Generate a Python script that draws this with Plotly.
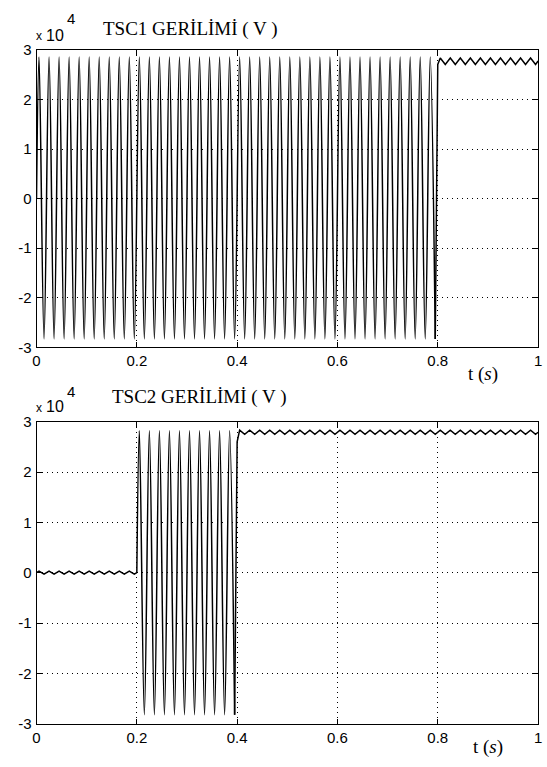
import plotly.graph_objects as go

W, H = 547, 767

# ---- TSC1 voltage (V) ----
# 50 Hz switching from 0 to 0.8 s: start point + 80 extrema
tsc1_osc_t = [
    0.000,
    0.005, 0.015, 0.025, 0.035, 0.045, 0.055, 0.065, 0.075, 0.085, 0.095,
    0.105, 0.115, 0.125, 0.135, 0.145, 0.155, 0.165, 0.175, 0.185, 0.195,
    0.205, 0.215, 0.225, 0.235, 0.245, 0.255, 0.265, 0.275, 0.285, 0.295,
    0.305, 0.315, 0.325, 0.335, 0.345, 0.355, 0.365, 0.375, 0.385, 0.395,
    0.405, 0.415, 0.425, 0.435, 0.445, 0.455, 0.465, 0.475, 0.485, 0.495,
    0.505, 0.515, 0.525, 0.535, 0.545, 0.555, 0.565, 0.575, 0.585, 0.595,
    0.605, 0.615, 0.625, 0.635, 0.645, 0.655, 0.665, 0.675, 0.685, 0.695,
    0.705, 0.715, 0.725, 0.735, 0.745, 0.755, 0.765, 0.775, 0.785, 0.795,
]
tsc1_osc_v = [
    0,
    28600, -28300, 28600, -28300, 28600, -28300, 28600, -28300, 28600, -28300,
    28600, -28300, 28600, -28300, 28600, -28300, 28600, -28300, 28600, -28300,
    28600, -28300, 28600, -28300, 28600, -28300, 28600, -28300, 28600, -28300,
    28600, -28300, 28600, -28300, 28600, -28300, 28600, -28300, 28600, -28300,
    28600, -28300, 28600, -28300, 28600, -28300, 28600, -28300, 28600, -28300,
    28600, -28300, 28600, -28300, 28600, -28300, 28600, -28300, 28600, -28300,
    28600, -28300, 28600, -28300, 28600, -28300, 28600, -28300, 28600, -28300,
    28600, -28300, 28600, -28300, 28600, -28300, 28600, -28300, 28600, -28300,
]
# charged capacitor with ripple, 0.8 - 1.0 s
tsc1_dc_t = [
    0.800,
    0.805, 0.815, 0.825, 0.835, 0.845, 0.855, 0.865, 0.875, 0.885, 0.895,
    0.905, 0.915, 0.925, 0.935, 0.945, 0.955, 0.965, 0.975, 0.985, 0.995,
    1.000,
]
tsc1_dc_v = [
    27100,
    28400, 27100, 28400, 27100, 28400, 27100, 28400, 27100, 28400, 27100,
    28400, 27100, 28400, 27100, 28400, 27100, 28400, 27100, 28400, 27100,
    27800,
]

# ---- TSC2 voltage (V) ----
# small ripple around zero, 0 - 0.2 s
tsc2_zero_t = [
    0.000,
    0.005, 0.015, 0.025, 0.035, 0.045, 0.055, 0.065, 0.075, 0.085, 0.095,
    0.105, 0.115, 0.125, 0.135, 0.145, 0.155, 0.165, 0.175, 0.185, 0.195,
    0.200,
]
tsc2_zero_v = [
    0,
    300, -300, 300, -300, 300, -300, 300, -300, 300, -300,
    300, -300, 300, -300, 300, -300, 300, -300, 300, -300,
    0,
]
# 50 Hz switching, 0.2 - 0.4 s
tsc2_osc_t = [
    0.205, 0.215, 0.225, 0.235, 0.245, 0.255, 0.265, 0.275, 0.285, 0.295,
    0.305, 0.315, 0.325, 0.335, 0.345, 0.355, 0.365, 0.375, 0.385, 0.395,
]
tsc2_osc_v = [
    28200, -28200, 28200, -28200, 28200, -28200, 28200, -28200, 28200, -28200,
    28200, -28200, 28200, -28200, 28200, -28200, 28200, -28200, 28200, -28200,
]
# charged capacitor with ripple, 0.4 - 1.0 s
tsc2_dc_t = [
    0.400,
    0.405, 0.415, 0.425, 0.435, 0.445, 0.455, 0.465, 0.475, 0.485, 0.495,
    0.505, 0.515, 0.525, 0.535, 0.545, 0.555, 0.565, 0.575, 0.585, 0.595,
    0.605, 0.615, 0.625, 0.635, 0.645, 0.655, 0.665, 0.675, 0.685, 0.695,
    0.705, 0.715, 0.725, 0.735, 0.745, 0.755, 0.765, 0.775, 0.785, 0.795,
    0.805, 0.815, 0.825, 0.835, 0.845, 0.855, 0.865, 0.875, 0.885, 0.895,
    0.905, 0.915, 0.925, 0.935, 0.945, 0.955, 0.965, 0.975, 0.985, 0.995,
    1.000,
]
tsc2_dc_v = [
    26000,
    28300, 27500, 28300, 27500, 28300, 27500, 28300, 27500, 28300, 27500,
    28300, 27500, 28300, 27500, 28300, 27500, 28300, 27500, 28300, 27500,
    28300, 27500, 28300, 27500, 28300, 27500, 28300, 27500, 28300, 27500,
    28300, 27500, 28300, 27500, 28300, 27500, 28300, 27500, 28300, 27500,
    28300, 27500, 28300, 27500, 28300, 27500, 28300, 27500, 28300, 27500,
    28300, 27500, 28300, 27500, 28300, 27500, 28300, 27500, 28300, 27500,
    27900,
]

x_ticks = [0, 0.2, 0.4, 0.6, 0.8, 1]
x_tick_text = ["0", "0.2", "0.4", "0.6", "0.8", "1"]
y_ticks = [-30000, -20000, -10000, 0, 10000, 20000, 30000]
y_tick_text = ["-3", "-2", "-1", "0", "1", "2", "3"]

fig = go.Figure()


def add_segment(t, v, xa, ya, smooth):
    fig.add_trace(go.Scatter(
        x=t, y=v, mode="lines",
        line=dict(color="black", width=1.5, shape="spline" if smooth else "linear",
                  smoothing=1.0),
        xaxis=xa, yaxis=ya, showlegend=False, hoverinfo="skip"))


# TSC1: switching section drawn smooth, then the jump into the DC ripple
add_segment(tsc1_osc_t, tsc1_osc_v, "x", "y", True)
add_segment(tsc1_osc_t[-1:] + tsc1_dc_t, tsc1_osc_v[-1:] + tsc1_dc_v, "x", "y", False)

# TSC2: zero ripple, switching section, DC ripple
add_segment(tsc2_zero_t, tsc2_zero_v, "x2", "y2", False)
add_segment(tsc2_zero_t[-1:] + tsc2_osc_t, tsc2_zero_v[-1:] + tsc2_osc_v, "x2", "y2", True)
add_segment(tsc2_osc_t[-1:] + tsc2_dc_t, tsc2_osc_v[-1:] + tsc2_dc_v, "x2", "y2", False)

tick_font = dict(family="Liberation Sans, Arial, sans-serif", size=15, color="black")


def px_x(p):
    return p / W


def px_y(p):
    return 1 - p / H


common = dict(
    ticks="inside", ticklen=5, tickcolor="black", showline=True,
    linecolor="black", linewidth=1, mirror="allticks", showgrid=True,
    gridcolor="black", gridwidth=1, griddash="1px,4px", zeroline=False,
    tickfont=tick_font,
)


def xaxis_cfg(anchor):
    return dict(domain=[px_x(33), px_x(542)], anchor=anchor, range=[0, 1],
                tickvals=x_ticks, ticktext=x_tick_text, ticklabelstandoff=0, **common)


def yaxis_cfg(anchor, top, bottom):
    return dict(domain=[px_y(bottom), px_y(top)], anchor=anchor, range=[-30000, 30000],
                tickvals=y_ticks, ticktext=y_tick_text, ticklabelstandoff=1, **common)


serif = "Liberation Serif, Times New Roman, serif"
sans = "Liberation Sans, Arial, sans-serif"
annotations = []


def label(text, x, y, size, family, xanchor="center"):
    annotations.append(dict(text=text, x=px_x(x), y=px_y(y), xref="paper", yref="paper",
                            showarrow=False, xanchor=xanchor, yanchor="middle",
                            font=dict(family=family, size=size, color="black")))


# titles, exponent markers and time labels
label("TSC1 GERİLİMİ ( V )", 189, 20, 19, serif)
label("TSC2 GERİLİMİ ( V )", 198, 397, 19, serif)
for base, sup in ((27, 10), (407, 391)):
    label("x", 36, base + 1, 12, sans)
    label("10", 52, base, 16, sans)
    label("4", 68, sup, 15, sans)
label("t (<i>s</i>)", 486, 373, 19, serif)
label("t (<i>s</i>)", 491, 755, 19, serif)

fig.update_layout(
    width=W, height=H,
    margin=dict(l=0, r=0, t=0, b=0),
    paper_bgcolor="white", plot_bgcolor="white",
    xaxis=xaxis_cfg("y"),
    yaxis=yaxis_cfg("x", 42, 346),
    xaxis2=xaxis_cfg("y2"),
    yaxis2=yaxis_cfg("x2", 422, 731),
    annotations=annotations,
)

fig.write_html("out.html")
